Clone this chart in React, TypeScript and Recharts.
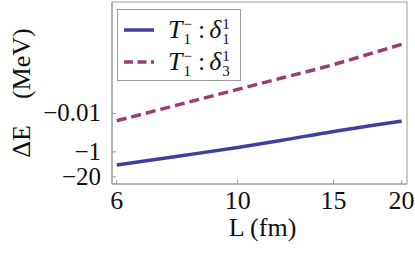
import React from "react";
import { LineChart, Line, XAxis, YAxis, Legend, ReferenceArea } from "recharts";

// box length L (fm) and energy shifts (MeV)
const lengths = [6, 8, 10, 12, 15, 18, 20];
const shiftD11 = [-4.81, -1.49, -0.59, -0.255, -0.0856, -0.0388, -0.0252];
const shiftD13 = [-0.0237, -0.00287, -0.000556, -0.000147, -2.84e-5, -6.1e-6, -2.52e-6];

const xTicks = [6, 10, 15, 20];
const yTicks = [0.01, 1, 20];
const xDomain = [5.88, 20.46];
const yDomain = [1.56e-8, 47];

const BLUE = "#3f3f9d";
const PURPLE = "#9a3d72";
const FRAME = "#9a9a9a";
const FONT = "'Liberation Serif', 'Times New Roman', serif";

const data = lengths.map((L, i) => ({ L, d11: shiftD11[i], d13: shiftD13[i] }));

const XTick = (props: any) => {
  const { x, y, payload } = props;
  return (
    <g>
      <line x1={x} x2={x} y1={y} y2={y - 4} stroke={FRAME} />
      <text x={x} y={y} dy={25} textAnchor="middle" fontSize={26} fontFamily={FONT} fill="#111">
        {payload.value}
      </text>
    </g>
  );
};

const YTick = (props: any) => {
  const { x, y, payload } = props;
  return (
    <g>
      <line x1={x} x2={x + 4} y1={y} y2={y} stroke={FRAME} />
      <text x={x - 11} y={y} dy={8} textAnchor="end" fontSize={25} fontFamily={FONT} fill="#111">
        {"\u2212" + payload.value}
      </text>
    </g>
  );
};

const Scripts = ({ sup, sub }: { sup: string; sub: string }) => (
  <span
    style={{
      display: "inline-flex",
      flexDirection: "column",
      fontSize: 15,
      lineHeight: "15px",
      verticalAlign: "middle",
      fontStyle: "normal",
      marginTop: 4,
      marginLeft: 1,
    }}
  >
    <span>{sup}</span>
    <span>{sub}</span>
  </span>
);

const legendRows = [
  { color: BLUE, dash: undefined as string | undefined, sub: "1" },
  { color: PURPLE, dash: "9 4.5", sub: "3" },
];

const LegendBox = () => (
  <div
    style={{
      width: 122,
      height: 70,
      border: `1px solid ${FRAME}`,
      background: "#fff",
      fontFamily: FONT,
      fontSize: 26,
      color: "#111",
      boxSizing: "content-box",
    }}
  >
    {legendRows.map((r, i) => (
      <div
        key={i}
        style={{ display: "flex", alignItems: "center", height: 32, marginTop: i === 0 ? 4 : 0, whiteSpace: "nowrap" }}
      >
        <svg width={30} height={6} style={{ marginLeft: 6, marginRight: 14 }}>
          <line x1={0} x2={30} y1={3} y2={3} stroke={r.color} strokeWidth={3.5} strokeDasharray={r.dash} />
        </svg>
        <span style={{ fontStyle: "italic" }}>T</span>
        <Scripts sup={"\u2212"} sub="1" />
        <span style={{ margin: "0 4px 0 6px" }}>:</span>
        <span style={{ fontStyle: "italic" }}>&delta;</span>
        <Scripts sup="1" sub={r.sub} />
      </div>
    ))}
  </div>
);

export default function App() {
  return (
    <div style={{ position: "absolute", left: 0, top: 0, background: "#fff" }}>
      <LineChart width={415} height={258} data={data} margin={{ top: 2, right: 8, bottom: 0, left: 0 }}>
        <XAxis
          dataKey="L"
          type="number"
          scale="log"
          domain={xDomain}
          ticks={xTicks}
          allowDataOverflow
          height={74}
          tickSize={0}
          tickMargin={0}
          axisLine={{ stroke: FRAME }}
          tick={<XTick />}
          label={{
            content: (p: any) => (
              <text
                x={p.viewBox.x + p.viewBox.width / 2 + 3}
                y={p.viewBox.y + 52}
                textAnchor="middle"
                fontSize={26}
                fontFamily={FONT}
                fill="#111"
              >
                L (fm)
              </text>
            ),
          }}
        />
        <YAxis
          type="number"
          scale="log"
          domain={yDomain}
          ticks={yTicks}
          reversed
          allowDataOverflow
          width={112}
          tickSize={0}
          tickMargin={0}
          axisLine={{ stroke: FRAME }}
          tick={<YTick />}
          label={{
            content: () => {
              const cx = 29.5;
              const cy = 93;
              return (
                <text
                  x={cx}
                  y={cy}
                  transform={`rotate(-90 ${cx} ${cy})`}
                  textAnchor="middle"
                  fontSize={26}
                  fontFamily={FONT}
                  fill="#111"
                >
                  {"\u0394E\u00a0\u00a0\u00a0\u00a0(MeV)"}
                </text>
              );
            },
          }}
        />
        <ReferenceArea
          x1={xDomain[0]}
          x2={xDomain[1]}
          y1={yDomain[0]}
          y2={yDomain[1]}
          fill="none"
          stroke={FRAME}
          strokeOpacity={1}
          ifOverflow="extendDomain"
        />
        <Line
          dataKey={(d: any) => -d.d11}
          name="d11"
          type="monotone"
          stroke={BLUE}
          strokeWidth={3.5}
          dot={false}
          isAnimationActive={false}
        />
        <Line
          dataKey={(d: any) => -d.d13}
          name="d13"
          type="monotone"
          stroke={PURPLE}
          strokeWidth={3.5}
          strokeDasharray="10 5"
          dot={false}
          isAnimationActive={false}
        />
        <Legend
          layout="vertical"
          align="center"
          verticalAlign="middle"
          content={<LegendBox />}
          wrapperStyle={{ left: 117, top: 9, width: "auto", height: "auto" }}
        />
      </LineChart>
    </div>
  );
}
